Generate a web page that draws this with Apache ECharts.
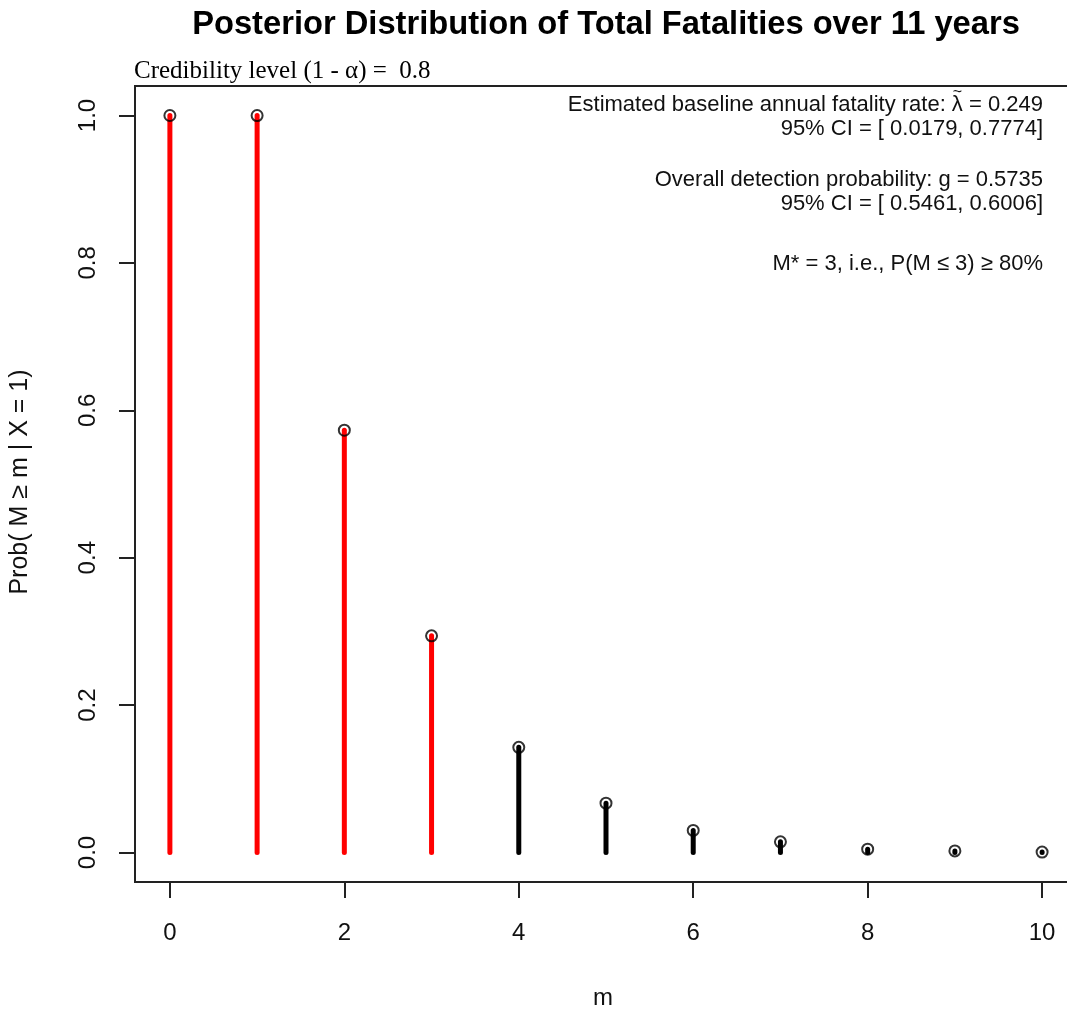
<!DOCTYPE html>
<html>
<head>
<meta charset="utf-8">
<script src="https://cdn.jsdelivr.net/npm/echarts@6/dist/echarts.min.js"></script>
<style>
html,body{margin:0;padding:0;background:#fff;}
#chart{width:1067px;height:1013px;}
</style>
</head>
<body>
<div id="chart"></div>
<script>
// ---- data ----
var mValues = [0, 1, 2, 3, 4, 5, 6, 7, 8, 9, 10];
var probValues = [1.0, 0.9999, 0.573, 0.294, 0.1427, 0.067, 0.030, 0.0145, 0.0046, 0.0022, 0.0006];
var mStar = 3;
var xTicks = [0, 2, 4, 6, 8, 10];
var yTicks = [0, 0.2, 0.4, 0.6, 0.8, 1.0];
var titleText = 'Posterior Distribution of Total Fatalities over 11 years';
var credText = 'Credibility level (1 - \u03b1) =  0.8';
var lambdaPrefix = 'Estimated baseline annual fatality rate: ';
var lambdaSuffix = ' = 0.249';
var noteLines = [
  lambdaPrefix + '\u03bb' + lambdaSuffix,
  '95% CI = [ 0.0179, 0.7774]',
  'Overall detection probability: g = 0.5735',
  '95% CI = [ 0.5461, 0.6006]',
  'M* = 3, i.e., P(M \u2264 3) \u2265 80%'
];
var xName = 'm';
var yName = 'Prob( M \u2265 m | X = 1)';

var stemData = mValues.map(function (m, i) { return [m, probValues[i]]; });
var font = '"Liberation Sans", Arial, sans-serif';
var txtColor = '#111';
var noteY = [105, 129, 180, 204, 264];
var noteFont = '22px ' + font;
var noteRight = 1043;

// measure for tilde placement over lambda
var mctx = document.createElement('canvas').getContext('2d');
mctx.font = noteFont;
var wSuffix = mctx.measureText(lambdaSuffix).width;
var wLambda = mctx.measureText('\u03bb').width;
var tildeX = noteRight - wSuffix - wLambda / 2;

var chart = echarts.init(document.getElementById('chart'));
chart.setOption({
  animation: false,
  backgroundColor: '#fff',
  title: {
    text: titleText,
    left: 601, top: 3, textAlign: 'center',
    textStyle: { fontFamily: font, fontSize: 32.7, fontWeight: 'bold', color: '#000' }
  },
  grid: {
    left: 135, right: -10, top: 86, bottom: 131,
    show: true, borderColor: '#222', borderWidth: 2,
    outerBoundsMode: 'none', containLabel: false
  },
  xAxis: {
    type: 'value', min: -0.4, max: 10.4,
    splitLine: { show: false },
    axisLine: { show: false, onZero: false },
    axisTick: { show: true, length: 16, inside: false, customValues: xTicks,
      lineStyle: { color: '#222', width: 2 } },
    axisLabel: { customValues: xTicks, margin: 39, fontFamily: font, fontSize: 24, color: txtColor,
      formatter: function (v) { return String(v); } }
  },
  yAxis: {
    type: 'value', min: -0.04, max: 1.04,
    splitLine: { show: false },
    axisLine: { show: false, onZero: false },
    axisTick: { show: true, length: 16, inside: false, customValues: yTicks,
      lineStyle: { color: '#222', width: 2 } },
    axisLabel: { customValues: yTicks, rotate: 90, margin: 35, fontFamily: font, fontSize: 24, color: txtColor,
      formatter: function (v) { return v.toFixed(1); } }
  },
  graphic: [
    { type: 'text', left: 134, top: 59, style: { text: credText, font: '25px "Liberation Serif", "Times New Roman", serif', fill: '#000' } },
    { type: 'text', x: 20, y: 482, rotation: Math.PI / 2,
      style: { text: yName, font: '25px ' + font, fill: txtColor, align: 'center', verticalAlign: 'middle' } },
    { type: 'text', x: 603, y: 998,
      style: { text: xName, font: '24px ' + font, fill: txtColor, align: 'center', verticalAlign: 'middle' } },
    { type: 'text', x: tildeX, y: 93,
      style: { text: '~', font: '16px ' + font, fill: txtColor, align: 'center', verticalAlign: 'middle' } }
  ].concat(noteLines.map(function (t, i) {
    return { type: 'text', x: noteRight, y: noteY[i],
      style: { text: t, font: noteFont, fill: txtColor, align: 'right', verticalAlign: 'middle' } };
  })),
  series: [
    {
      type: 'custom',
      data: stemData,
      z: 2,
      renderItem: function (params, api) {
        var x = api.value(0), y = api.value(1);
        var p0 = api.coord([x, 0]);
        var p1 = api.coord([x, y]);
        return {
          type: 'line',
          shape: { x1: p0[0], y1: p0[1], x2: p1[0], y2: p1[1] },
          style: { stroke: x <= mStar ? '#ff0000' : '#000000', lineWidth: 5, lineCap: 'round' }
        };
      }
    },
    {
      type: 'scatter',
      data: stemData,
      z: 3,
      symbol: 'circle',
      symbolSize: 11,
      itemStyle: { color: 'rgba(0,0,0,0)', borderColor: '#000', borderWidth: 2 }
    }
  ]
});
</script>
</body>
</html>
